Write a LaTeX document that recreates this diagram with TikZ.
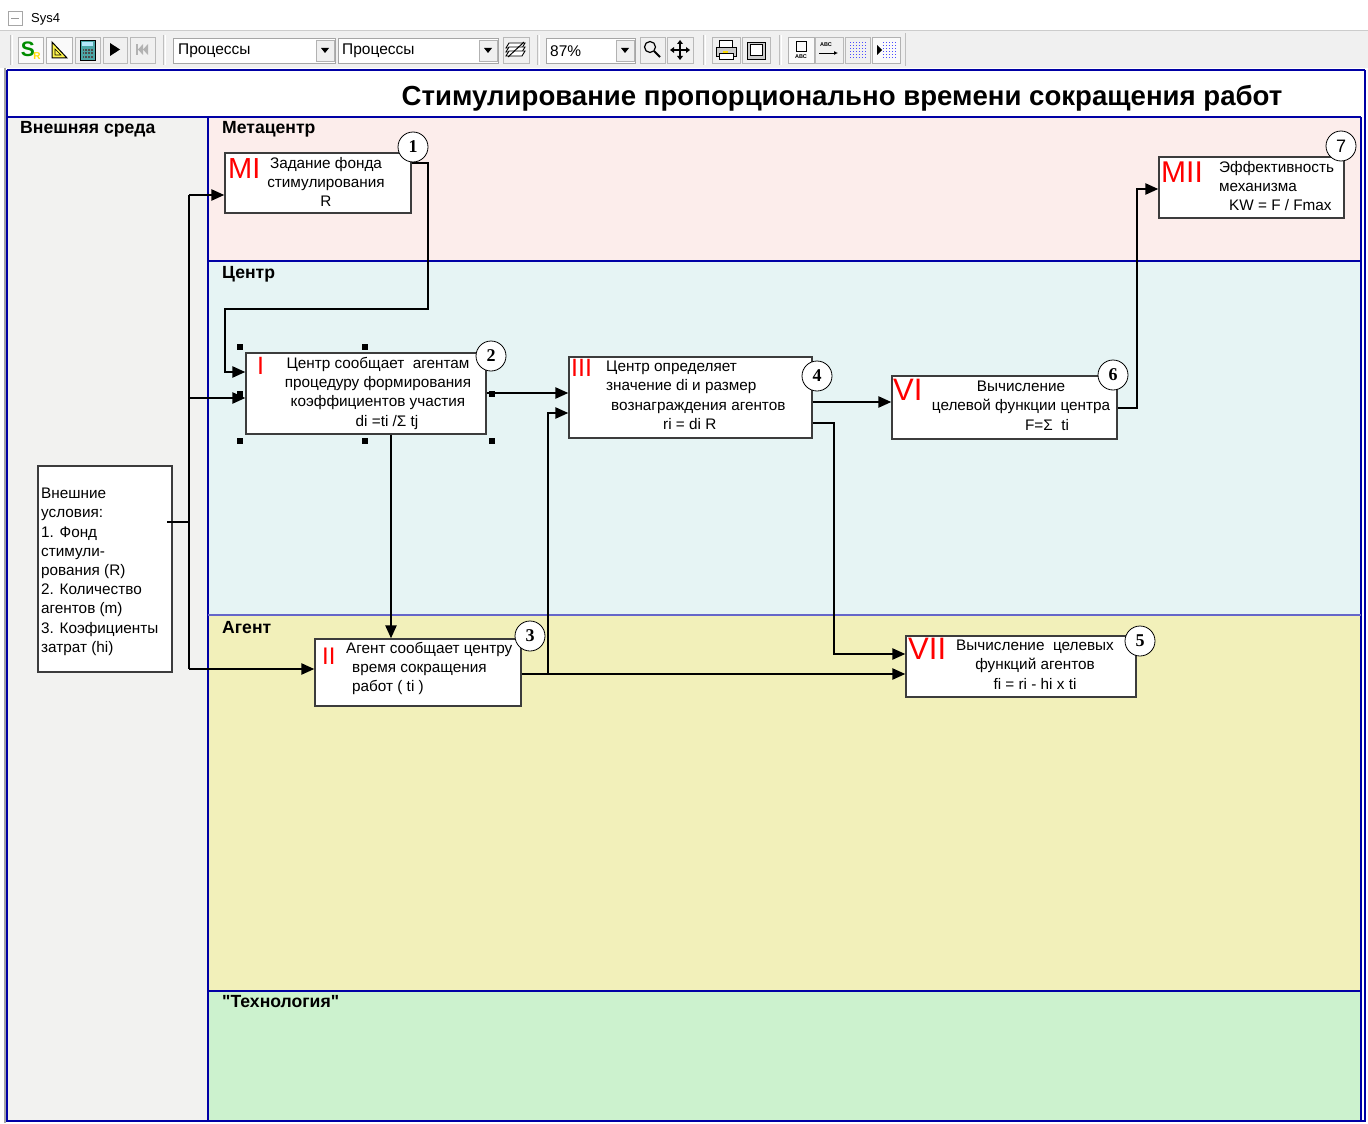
\documentclass[tikz,border=0pt]{standalone}
\usepackage{fontspec}
\setmainfont{Liberation Sans}
\newfontfamily\serifnum{Liberation Serif}
\newfontfamily\lsplain{Liberation Sans}
\usetikzlibrary{arrows.meta,calc}
\definecolor{lanepink}{RGB}{252,237,235}
\definecolor{lanecyan}{RGB}{230,244,244}
\definecolor{laneyellow}{RGB}{242,240,186}
\definecolor{lanegreen}{RGB}{204,242,206}
\definecolor{leftgray}{RGB}{242,242,240}
\definecolor{laneblue}{RGB}{0,0,165}
\definecolor{tbbg}{RGB}{240,240,240}
\definecolor{boxline}{RGB}{60,60,60}
\newcommand\tbbtn[2]{\draw[draw=gray!55, fill=tbbg] (#1,37) rectangle (#2,63);}
\newcommand\tbsep[1]{\draw[gray!50, line width=1pt] (#1,35) -- (#1,65); \draw[white, line width=1pt] (#1+2,35) -- (#1+2,65);}
\begin{document}
\begin{tikzpicture}[x=1pt,y=-1pt,
  box/.style={draw=boxline, line width=1.3pt, fill=white, inner sep=0pt},
  txt/.style={font=\fontsize{15.3}{19.2}\selectfont, inner sep=0pt, anchor=north},
  rednum/.style={text=red, inner sep=0pt, anchor=north west},
  numc/.style={circle, draw=black, line width=0.8pt, fill=white, minimum size=30pt, inner sep=0pt, font=\serifnum\bfseries\fontsize{18}{18}\selectfont},
  conn/.style={line width=2.4pt, draw=black},
  arr/.style={conn, -{Triangle[length=13pt,width=11pt]}},
  lanelab/.style={font=\bfseries\fontsize{17.6}{17.6}\selectfont, anchor=base west, inner sep=0pt},
  handle/.style={fill=black, minimum size=6pt, inner sep=0pt},
  lane/.style={draw=laneblue, line width=1.8pt},
  combotxt/.style={font=\fontsize{15.5}{15.5}\selectfont, anchor=west, inner sep=0pt}
]
\useasboundingbox (0,0) rectangle (1368,1124);
\fill[white] (0,0) rectangle (1368,1124);

% ---------- window title ----------
\draw[gray!70, fill=white] (8,11) rectangle (22,25);
\draw[gray!80] (11,18) -- (19,18);
\node[font=\fontsize{13}{13}\selectfont, anchor=base west, inner sep=0pt] (wtitle) at (31,23) {Sys4};

% ---------- toolbar ----------
\fill[tbbg] (0,30) rectangle (1368,68);
\draw[gray!40] (0,30) -- (1368,30);
\tbsep{10} \tbsep{163} \tbsep{537} \tbsep{703} \tbsep{779}
\draw[gray!50] (905,33) -- (905,66);
% buttons group 1
\draw[draw=gray!60, fill=white!70!tbbg] (18,37) rectangle (43,63);
\node[font=\bfseries\fontsize{21}{21}\selectfont, text=green!55!black, inner sep=0pt] (bS) at (28,49) {S};
\node[font=\bfseries\fontsize{10}{10}\selectfont, text=yellow!80!orange, inner sep=0pt] (bR) at (37,56) {R};
\draw[draw=gray!60, fill=white!70!tbbg] (46,37) rectangle (72,63);
\draw[line width=1pt, fill=yellow!70] (52,58) -- (67,58) -- (52,42) -- cycle;
\draw[line width=0.6pt] (55,55) -- (61,55) -- (55,49) -- cycle;
\tbbtn{75}{100}
\draw[black, fill=teal!70] (80,40) rectangle (95,60);
\fill[cyan!30] (82,42) rectangle (93,46);
\foreach \i in {0,1,2,3} {\foreach \j in {0,1,2} {\fill[black!70] (82.5+\i*2.8,49+\j*3.5) rectangle (84.2+\i*2.8,50.8+\j*3.5);}}
\tbbtn{103}{127}
\fill (110,43) -- (110,56) -- (120,49.5) -- cycle;
\tbbtn{130}{155}
\fill[gray!60] (136,44) rectangle (138,55);
\fill[gray!60] (138,49.5) -- (143,44) -- (143,55) -- cycle;
\fill[gray!60] (143,49.5) -- (148,44) -- (148,55) -- cycle;
% combo 1
\draw[draw=gray!70, fill=white] (173,38) rectangle (335,63);
\node[combotxt] (cb1) at (178,51) {Процессы};
\draw[draw=gray!60, fill=tbbg] (316,40) rectangle (334,61);
\fill (321,48) -- (329,48) -- (325,53) -- cycle;
% combo 2
\draw[draw=gray!70, fill=white] (338,38) rectangle (498,63);
\node[combotxt] (cb2) at (342,51) {Процессы};
\draw[draw=gray!60, fill=tbbg] (479,40) rectangle (497,61);
\fill (484,48) -- (492,48) -- (488,53) -- cycle;
\tbbtn{503}{529}
\foreach \k in {0,4,8} {\draw[line width=0.9pt, fill=white] (509,43+\k) -- (525,43+\k) -- (522,48+\k) -- (506,48+\k) -- cycle;}
\draw[line width=1pt] (508,57) -- (524,42);
% combo 3
\draw[draw=gray!70, fill=white] (546,38) rectangle (635,63);
\node[combotxt] (cb3) at (550,51) {87\%};
\draw[draw=gray!60, fill=tbbg] (616,40) rectangle (634,61);
\fill (621,48) -- (629,48) -- (625,53) -- cycle;
\tbbtn{640}{665}
\draw[line width=1.2pt] (650,47) circle (5.5pt);
\draw[line width=2pt] (654,51) -- (660,57);
\tbbtn{667}{693}
\draw[line width=1.1pt] (680,41) -- (680,59) (671,50) -- (689,50);
\fill (680,40) -- (677,44) -- (683,44) -- cycle;
\fill (680,60) -- (677,56) -- (683,56) -- cycle;
\fill (670,50) -- (674,47) -- (674,53) -- cycle;
\fill (690,50) -- (686,47) -- (686,53) -- cycle;
\tbbtn{712}{740}
\draw[line width=1pt, fill=white] (719,41) rectangle (732,48);
\draw[line width=1pt, fill=gray!40] (716,48) rectangle (736,57);
\draw[line width=1pt, fill=white] (719,54) rectangle (733,60);
\fill[yellow!80!orange] (723,51) rectangle (728,53);
\tbbtn{742}{770}
\draw[line width=0.8pt, fill=gray!40] (747,42) rectangle (765,59);
\draw[line width=1pt, fill=white] (750,45) rectangle (762,56);
\draw[draw=gray!60, fill=white!70!tbbg] (788,37) rectangle (814,63);
\draw[line width=0.8pt] (796,41) rectangle (806,51);
\node[font=\bfseries\fontsize{5.5}{5.5}\selectfont, inner sep=0pt] (abc1) at (801,57) {ABC};
\tbbtn{815}{843}
\node[font=\bfseries\fontsize{5.5}{5.5}\selectfont, inner sep=0pt] (abc2) at (826,45) {ABC};
\draw[line width=0.8pt, -{Latex[length=4pt,width=4pt]}] (819,53) -- (838,53);
\tbbtn{845}{870}
\foreach \i in {0,...,5} {\foreach \j in {0,...,5} {\fill[blue!70] (850+\i*3,42+\j*3) rectangle (851+\i*3,43+\j*3);}}
\draw[draw=gray!60, fill=white!70!tbbg] (872,37) rectangle (900,63);
\fill (877,45) -- (877,55) -- (882,50) -- cycle;
\foreach \i in {0,...,4} {\foreach \j in {0,...,5} {\fill[blue!70] (883+\i*3,42+\j*3) rectangle (884+\i*3,43+\j*3);}}

% ---------- diagram frame and lanes ----------
\fill[white] (7,70) rectangle (1365,117);
\fill[leftgray] (7,117) rectangle (208,1121);
\fill[lanepink] (208,117) rectangle (1361,261);
\fill[lanecyan] (208,261) rectangle (1361,615);
\fill[laneyellow] (208,615) rectangle (1361,991);
\fill[lanegreen] (208,991) rectangle (1361,1121);
\draw[gray!70, line width=1.5pt] (5,68) -- (5,1123);
\draw[lane] (7,70) -- (1365,70);
\draw[lane] (7,70) -- (7,1121) -- (1365,1121) -- (1365,70);
\draw[lane] (7,117) -- (1361,117);
\draw[lane] (208,117) -- (208,1121);
\draw[lane] (1361,117) -- (1361,1121);
\draw[lane] (208,261) -- (1361,261);
\draw[lane, draw=laneblue!60] (208,615) -- (1361,615);
\draw[lane] (208,991) -- (1361,991);

\node[font=\bfseries\fontsize{27.6}{27.6}\selectfont, anchor=base, inner sep=0pt] (title) at (842,106) {Стимулирование пропорционально времени сокращения работ};
\node[lanelab] (lab-env) at (20,133) {Внешняя среда};
\node[lanelab] (lab-meta) at (222,133) {Метацентр};
\node[lanelab] (lab-center) at (222,278) {Центр};
\node[lanelab] (lab-agent) at (222,633) {Агент};
\node[lanelab, font=\lsplain\bfseries\fontsize{17.6}{17.6}\selectfont] (lab-tech) at (222,1007) {"Технология"};

% ---------- boxes ----------
\node[box, minimum width=186pt, minimum height=60pt] (mi) at (318,183) {};
\node[box, minimum width=185pt, minimum height=61pt] (mii) at (1251.5,187.5) {};
\node[box, minimum width=240pt, minimum height=81pt] (ibox) at (366,393.5) {};
\node[box, minimum width=243pt, minimum height=81pt] (iii) at (690.5,397.5) {};
\node[box, minimum width=225pt, minimum height=63pt] (vi) at (1004.5,407.5) {};
\node[box, minimum width=206pt, minimum height=67pt] (ii) at (418,672.5) {};
\node[box, minimum width=230pt, minimum height=61pt] (vii) at (1021,666.5) {};
\node[box, minimum width=134pt, minimum height=206pt] (ext) at (105,569) {};

% red numerals
\node[rednum, font=\fontsize{29}{29}\selectfont] (mi-r) at (228,158) {MI};
\node[rednum, font=\fontsize{30}{30}\selectfont] (mii-r) at (1161,162) {MII};
\node[rednum, font=\fontsize{25}{25}\selectfont] (i-r) at (257,357) {I};
\node[rednum, font=\fontsize{25}{25}\selectfont] (iii-r) at (571,359) {III};
\node[rednum, font=\fontsize{31}{31}\selectfont] (vi-r) at (893,379) {VI};
\node[rednum, font=\fontsize{24}{24}\selectfont] (ii-r) at (322,648) {II};
\node[rednum, font=\fontsize{31}{31}\selectfont] (vii-r) at (908,638) {VII};

% texts
\node[txt, align=center] (mi-t) at (326,157) {Задание фонда\\стимулирования\\R};
\node[txt, align=left, anchor=north west] (mii-t) at (1219,161) {Эффективность\\механизма\\\hspace*{10pt}KW = F / Fmax};
\node[txt, align=center] (i-t) at (378,357) {Центр сообщает\ \ агентам\\процедуру формирования\\коэффициентов участия\\\hspace*{18pt}di =ti /Σ tj};
\node[txt, align=left, anchor=north west] (iii-t) at (606,361) {Центр определяет\\значение di и размер\\\hspace*{5pt}вознаграждения агентов\\\hspace*{57pt}ri = di R};
\node[txt, align=center] (vi-t) at (1021,381) {Вычисление\\целевой функции центра\\\hspace*{52pt}F=Σ\ \ ti};
\node[txt, align=left, anchor=north west] (ii-t) at (346,642) {Агент сообщает центру\\\hspace*{6pt}время сокращения\\\hspace*{6pt}работ ( ti )};
\node[txt, align=center] (vii-t) at (1035,640) {Вычисление\ \ целевых\\функций агентов\\fi = ri - hi x ti};
\node[txt, align=left, anchor=north west] (ext-t) at (41,488) {Внешние\\условия:\\1. Фонд\\стимули-\\рования (R)\\2. Количество\\агентов (m)\\3. Коэфициенты\\затрат (hi)};

% ---------- connectors ----------
\coordinate (extout) at (167,522);
\coordinate (busj) at (189,522);
\coordinate (bus1) at (189,195);
\coordinate (bus2) at (189,398);
\coordinate (bus3) at (189,669);
\draw[conn] (extout) -- (busj);
\draw[conn] (bus1) -- (bus3);
\draw[arr] (bus1) -- (mi.west |- bus1);
\draw[arr] (bus2) -- (ibox.west |- bus2);
\draw[arr] (bus3) -- (ii.west |- bus3);

\draw[arr] (mi.east |- 0,163) -- (428,163) -- (428,309) -- (225,309) -- (225,372) -- (ibox.west |- 0,372);
\draw[arr] (ibox.east |- 0,393) -- (iii.west |- 0,393);
\draw[arr] (ibox.south -| 391,0) -- (ii.north -| 391,0);
\draw[arr] (ii.east |- 0,674) -- (vii.west |- 0,674);
\draw[arr] (548,674) -- (548,413) -- (iii.west |- 0,413);
\draw[arr] (iii.east |- 0,402) -- (vi.west |- 0,402);
\draw[arr] (iii.east |- 0,423) -- (834,423) -- (834,654) -- (vii.west |- 0,654);
\draw[arr] (vi.east |- 0,408) -- (1137,408) -- (1137,189) -- (mii.west |- 0,189);

% ---------- selection handles ----------
\node[handle] (h1) at (240,347) {};
\node[handle] (h2) at (365,347) {};
\node[handle] (h3) at (492,347) {};
\node[handle] (h4) at (240,394) {};
\node[handle] (h5) at (492,394) {};
\node[handle] (h6) at (240,441) {};
\node[handle] (h7) at (365,441) {};
\node[handle] (h8) at (492,441) {};

% ---------- number circles ----------
\node[numc] (c1) at (413,147) {1};
\node[numc] (c2) at (491,356) {2};
\node[numc] (c3) at (530,636) {3};
\node[numc] (c4) at (817,376) {4};
\node[numc] (c5) at (1140,641) {5};
\node[numc] (c6) at (1113,375) {6};
\node[numc, font=\fontsize{18}{18}\selectfont] (c7) at (1341,146) {7};
\end{tikzpicture}
\end{document}
